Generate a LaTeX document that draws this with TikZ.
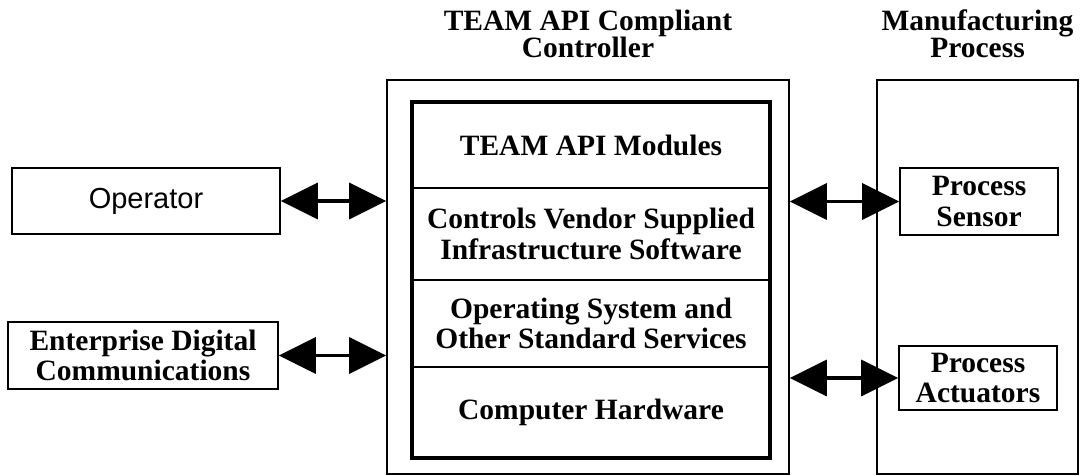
\documentclass[tikz,border=0pt]{standalone}
\usepackage{fontspec}
\setmainfont{Liberation Serif}
\setsansfont{Liberation Sans}
\usepackage{tikz}
\usetikzlibrary{arrows.meta,positioning}
\newcommand{\figfont}{\bfseries\fontsize{29.5}{30.5}\selectfont}
\tikzstyle{block} = [rectangle, draw, line width=1.6pt, align=center,
    inner sep=2pt, font=\figfont]
\tikzstyle{layer} = [rectangle, draw, line width=1.6pt, align=center,
    minimum width=358pt, outer sep=0pt, font=\figfont]
\tikzstyle{frame} = [rectangle, draw, line width=1.8pt, minimum width=201pt,
    minimum height=394pt]
\tikzstyle{title} = [align=center, inner sep=0pt,
    font=\bfseries\fontsize{29.5}{27.5}\selectfont]
\tikzstyle{line} = [draw, line width=3.5pt,
    {Triangle[length=37pt,width=36pt]}-{Triangle[length=37pt,width=36pt]}]

\begin{document}
\begin{tikzpicture}[x=1pt, y=-1pt]
    \useasboundingbox (0,0) rectangle (1080,476);
    % outer boxes
    \node [frame, minimum width=402pt] (ctrl) at (588,277) {};
    \node [frame] (mfg) at (977.5,277) {};
    \node [title, above=21pt of ctrl] (ctrltitle) {TEAM API Compliant\\Controller};
    \node [title, above=21pt of mfg] (mfgtitle) {Manufacturing\\Process};
    % controller layers
    \node [layer, minimum height=86pt] (mods) at (591,145) {TEAM API Modules};
    \node [layer, minimum height=92pt, below=0pt of mods] (vend)
        {Controls Vendor Supplied\\Infrastructure Software};
    \node [layer, minimum height=87pt, below=0pt of vend] (os)
        {Operating System and\\Other Standard Services};
    \node [layer, minimum height=91pt, below=0pt of os] (hw) {Computer Hardware};
    \draw [line width=4pt] (mods.north west) rectangle (hw.south east);
    % outside blocks
    \node [block, minimum width=268pt, minimum height=66pt,
        font=\sffamily\fontsize{29}{30}\selectfont] (oper) at (146,201) {Operator};
    \node [block, minimum width=270pt, minimum height=67pt] (ent) at (143,355.5)
        {Enterprise Digital\\Communications};
    \node [block, minimum width=158pt, minimum height=67pt] (sens) at (979,201.5)
        {Process\\Sensor};
    \node [block, minimum width=158pt, minimum height=64pt] (act) at (978,378)
        {Process\\Actuators};
    % arrows
    \path [line] (oper.east) -- (oper.east -| ctrl.west);
    \path [line] (ent.east) -- (ent.east -| ctrl.west);
    \path [line] (ctrl.east |- sens.west) -- (sens.west);
    \path [line] (ctrl.east |- act.west) -- (act.west);
\end{tikzpicture}
\end{document}
